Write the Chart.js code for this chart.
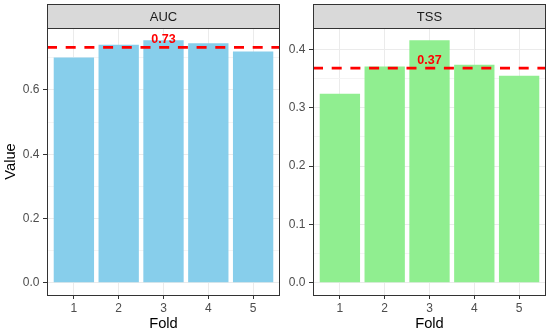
<!DOCTYPE html>
<html>
<head>
<meta charset="utf-8">
<script src="https://cdn.jsdelivr.net/npm/chart.js@4.4.1/dist/chart.umd.min.js"></script>
<style>
  body { margin: 0; background: #fff; }
  #wrap { position: relative; width: 550px; height: 334px; }
  #wrap canvas { position: absolute; top: 0; }
</style>
</head>
<body>
<div id="wrap">
  <canvas id="auc" width="282" height="334" style="left:0"></canvas>
  <canvas id="tss" width="268" height="334" style="left:282px"></canvas>
</div>
<script>
// data
const folds = ['1', '2', '3', '4', '5'];
const aucValues = [0.701, 0.741, 0.755, 0.745, 0.720];
const tssValues = [0.324, 0.371, 0.416, 0.374, 0.355];

const aucTicks = [0, 0.2, 0.4, 0.6];
const aucTickLabels = ['0.0', '0.2', '0.4', '0.6'];
const aucMinor = [0.1, 0.3, 0.5, 0.7];

const tssTicks = [0, 0.1, 0.2, 0.3, 0.4];
const tssTickLabels = ['0.0', '0.1', '0.2', '0.3', '0.4'];
const tssMinor = [0.05, 0.15, 0.25, 0.35];

const FONT = "'Liberation Sans', Arial, Helvetica, sans-serif";

// strip on top, dashed mean line + label, panel border
const facetPlugin = {
  id: 'facet',
  afterDatasetsDraw(chart, args, opts) {
    const { ctx, chartArea: a, scales } = chart;
    const y = scales.y.getPixelForValue(opts.mean);
    ctx.save();
    ctx.strokeStyle = '#FF0000';
    ctx.lineWidth = 2.6;
    ctx.setLineDash([10, 8.7]);
    ctx.beginPath();
    ctx.moveTo(a.left, y);
    ctx.lineTo(a.right, y);
    ctx.stroke();
    ctx.setLineDash([]);

    ctx.fillStyle = '#FF0000';
    ctx.font = 'bold 12.5px ' + FONT;
    ctx.textAlign = 'center';
    ctx.textBaseline = 'middle';
    ctx.fillText(opts.mean.toFixed(2), scales.x.getPixelForValue(opts.labelAt), y - 8);

    // panel border
    ctx.strokeStyle = '#333333';
    ctx.lineWidth = 1;
    ctx.strokeRect(Math.round(a.left) + 0.5, Math.round(a.top) + 0.5,
      Math.round(a.right - a.left) - 1, Math.round(a.bottom - a.top));

    // strip
    const top = 4.5;
    const h = Math.round(a.top) - 4;
    ctx.fillStyle = '#D9D9D9';
    ctx.fillRect(Math.round(a.left) + 0.5, top, Math.round(a.right - a.left) - 1, h);
    ctx.strokeRect(Math.round(a.left) + 0.5, top, Math.round(a.right - a.left) - 1, h);
    ctx.fillStyle = '#1A1A1A';
    ctx.font = '13px ' + FONT;
    ctx.fillText(opts.label, (a.left + a.right) / 2, top + h / 2 + 0.5);
    ctx.restore();
  }
};

function makePanel(id, label, values, color, ticks, tickLabels, minor, yWidth, showTitle, padRight) {
  const maxV = Math.max(...values);
  const mean = values.reduce((s, v) => s + v, 0) / values.length;
  const allTicks = ticks.concat(minor).sort((p, q) => p - q);
  const isMajor = v => ticks.some(t => Math.abs(t - v) < 1e-9);

  return new Chart(document.getElementById(id), {
    type: 'bar',
    data: {
      datasets: [{
        data: values.map((v, i) => ({ x: i + 1, y: v })),
        backgroundColor: color,
        borderWidth: 0,
        barPercentage: 0.9,
        categoryPercentage: 1.0
      }]
    },
    options: {
      responsive: false,
      animation: false,
      layout: { padding: { top: 28, right: padRight, left: 0, bottom: 0 } },
      plugins: {
        legend: { display: false },
        tooltip: { enabled: false },
        facet: { label: label, mean: mean, labelAt: 3 }
      },
      scales: {
        x: {
          type: 'linear',
          offset: false,
          min: 0.4,
          max: folds.length + 0.6,
          afterBuildTicks: s => { s.ticks = folds.map((f, i) => ({ value: i + 1 })); },
          afterFit: s => { s.height = 39; },
          ticks: {
            autoSkip: false,
            maxRotation: 0,
            padding: 2,
            color: '#4D4D4D',
            font: { family: FONT, size: 12 },
            callback: (v, i) => folds[i]
          },
          grid: { offset: false, color: '#EBEBEB', lineWidth: 1, tickColor: '#333333', tickLength: 4 },
          border: { display: false },
          title: {
            display: true,
            text: 'Fold',
            color: '#000000',
            font: { family: FONT, size: 14.7 },
            padding: { top: 0, bottom: 1 }
          }
        },
        y: {
          type: 'linear',
          min: -0.05 * maxV,
          max: maxV * 1.05,
          afterBuildTicks: s => { s.ticks = allTicks.map(v => ({ value: v })); },
          afterFit: s => { s.width = yWidth; },
          ticks: {
            autoSkip: false,
            padding: 3.5,
            color: '#4D4D4D',
            font: { family: FONT, size: 12 },
            callback: v => {
              const k = ticks.findIndex(t => Math.abs(t - v) < 1e-9);
              return k >= 0 ? tickLabels[k] : '';
            }
          },
          grid: {
            color: c => isMajor(c.tick.value) ? '#EBEBEB' : '#F4F4F4',
            lineWidth: 1,
            tickColor: c => isMajor(c.tick.value) ? '#333333' : 'rgba(0,0,0,0)',
            tickLength: 4
          },
          border: { display: false },
          title: {
            display: showTitle,
            text: 'Value',
            color: '#000000',
            font: { family: FONT, size: 14.7 },
            padding: { top: 2, bottom: 0 }
          }
        }
      }
    },
    plugins: [facetPlugin]
  });
}

makePanel('auc', 'AUC', aucValues, '#87CEEB', aucTicks, aucTickLabels, aucMinor, 47, true, 2);
makePanel('tss', 'TSS', tssValues, '#90EE90', tssTicks, tssTickLabels, tssMinor, 31, false, 4);
</script>
</body>
</html>
